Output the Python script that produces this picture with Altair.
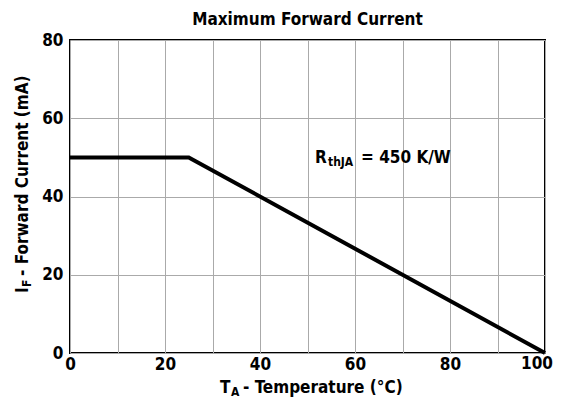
import altair as alt
import pandas as pd

# Data
temperature = [0, 25, 100]
current = [50, 50, 0]
x_ticks = [0, 10, 20, 30, 40, 50, 60, 70, 80, 90, 100]
y_ticks = [0, 20, 40, 60, 80]
last_x_label = [100]

FONT = "DejaVu Sans Condensed"

df = pd.DataFrame({"T": temperature, "I": current})

x_scale = alt.Scale(domain=[0, 100], nice=False)
y_scale = alt.Scale(domain=[0, 80], nice=False)

line = alt.Chart(df).mark_line(color="black", strokeWidth=4).encode(
    x=alt.X("T:Q", scale=x_scale,
            axis=alt.Axis(values=x_ticks, title=None, ticks=False, domain=False,
                          labelExpr="datum.value % 20 == 0 && datum.value < 100 ? datum.label : ''",
                          labelFont=FONT, labelFontWeight="bold", labelFontSize=17,
                          labelColor="black", labelPadding=3, gridColor="#aaaaaa",
                          gridWidth=1, gridOpacity=1, labelFlush=False)),
    y=alt.Y("I:Q", scale=y_scale,
            axis=alt.Axis(values=y_ticks, title=None, ticks=False, domain=False,
                          labelFont=FONT, labelFontWeight="bold", labelFontSize=17,
                          labelColor="black", labelPadding=7, gridColor="#aaaaaa",
                          gridWidth=1, gridOpacity=1, labelFlush=False)),
)

# last x tick label, placed through the x scale (right-aligned to stay inside the page)
last_label = alt.Chart(pd.DataFrame({"v": last_x_label})).mark_text(
    font=FONT, fontWeight="bold", fontSize=17, color="black",
    align="right", baseline="top", dx=8,
).encode(x=alt.X("v:Q", scale=x_scale), y=alt.value(316), text="v:Q")


def txt(s, x, y, size, align="left", angle=0, baseline="alphabetic"):
    return alt.Chart(pd.DataFrame({"t": [s]})).mark_text(
        font=FONT, fontWeight="bold", fontSize=size, color="black",
        align=align, baseline=baseline, angle=angle,
    ).encode(text="t:N", x=alt.value(x), y=alt.value(y))


texts = [
    txt("Maximum Forward Current", 237.5, -15, 17, align="center"),
    # x title
    txt("T", 150, 353, 17),
    txt("A", 161, 356, 12),
    txt("- Temperature (°C)", 173, 353, 17),
    # y title
    txt("I", -42, 253, 17, angle=270),
    txt("F", -39, 247, 12, angle=270),
    txt("- Forward Current (mA)", -42, 236, 17, angle=270),
    # annotation
    txt("R", 245, 123, 17),
    txt("thJA", 258, 126, 12),
    txt("= 450 K/W", 291, 123, 17),
]

chart = alt.layer(line, last_label, *texts).properties(
    width=475, height=313,
    autosize=alt.AutoSizeParams(type="none"),
    padding={"left": 62, "top": 32, "right": 9, "bottom": 46},
).configure_view(stroke="black", strokeWidth=2)

chart.save("out.html", embed_options={"renderer": "svg", "actions": False})
